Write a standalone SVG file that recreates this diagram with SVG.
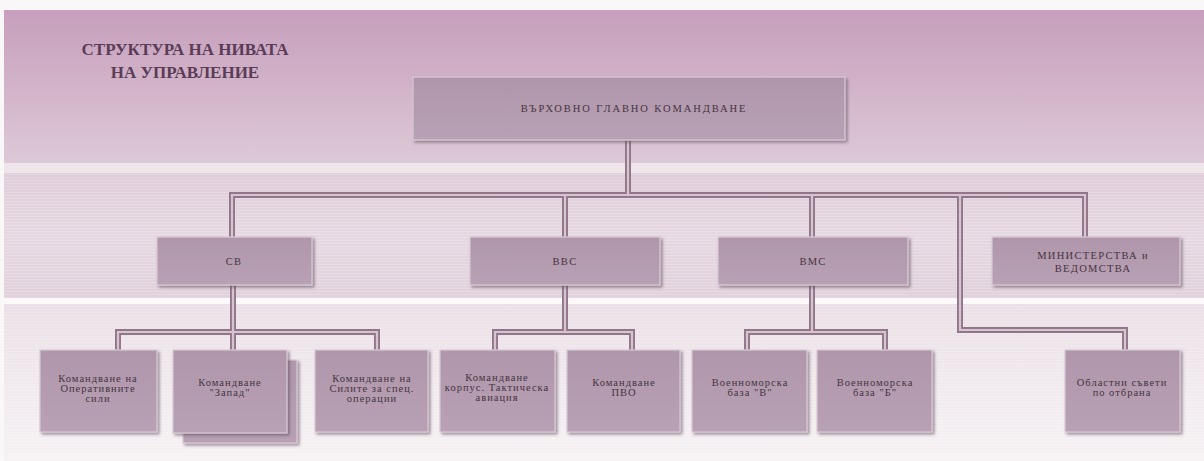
<svg xmlns="http://www.w3.org/2000/svg" width="1204" height="461" viewBox="0 0 1204 461">
<defs>
<linearGradient id="gTop" x1="0" y1="0" x2="0" y2="1">
<stop offset="0" stop-color="#c69fbc"/>
<stop offset="0.55" stop-color="#d3b5ca"/>
<stop offset="1" stop-color="#ddc9d7"/>
</linearGradient>
<linearGradient id="gMid" x1="0" y1="0" x2="0" y2="1">
<stop offset="0" stop-color="#dfcdd9"/>
<stop offset="0.5" stop-color="#e6d8e2"/>
<stop offset="1" stop-color="#e1d1dc"/>
</linearGradient>
<linearGradient id="gBot" x1="0" y1="0" x2="0" y2="1">
<stop offset="0" stop-color="#ebe0e7"/>
<stop offset="1" stop-color="#f6f2f4"/>
</linearGradient>
<linearGradient id="gNode" x1="0" y1="0" x2="0" y2="1">
<stop offset="0" stop-color="#af96aa"/>
<stop offset="1" stop-color="#b9a1b5"/>
</linearGradient>
<pattern id="stripes" width="4" height="3" patternUnits="userSpaceOnUse">
<rect width="4" height="1" fill="#ffffff" fill-opacity="0.18"/>
</pattern>
<filter id="sh" x="-10%" y="-10%" width="125%" height="130%">
<feDropShadow dx="2" dy="2" stdDeviation="1.6" flood-color="#5a4256" flood-opacity="0.55"/>
</filter>
</defs>
<style>
.node{fill:url(#gNode);stroke:#d9cad5;stroke-width:1.2;filter:url(#sh)}
.t{font-family:"Liberation Serif","DejaVu Serif",serif;fill:#45343f;text-anchor:middle}
.t1{font-size:10.5px;letter-spacing:1.9px}
.t2{font-size:10.5px;letter-spacing:1.3px}
.t3{font-size:10.5px;letter-spacing:1px}
.title{font-family:"Liberation Serif","DejaVu Serif",serif;font-weight:bold;font-size:17px;fill:#5a3c56;text-anchor:middle}
.cOut{fill:none;stroke:#917689;stroke-width:6;stroke-linejoin:miter;stroke-linecap:square}
.cIn{fill:none;stroke:#d6c5d0;stroke-width:2.2;stroke-linejoin:miter;stroke-linecap:square}
</style>
<rect width="1204" height="461" fill="#faf7f9"/>
<g id="background">
<rect x="4" y="10" width="1200" height="153" fill="url(#gTop)"/>
<rect x="4" y="163" width="1200" height="10" fill="#efe6ec"/>
<rect x="4" y="173" width="1200" height="125" fill="url(#gMid)"/>
<rect x="4" y="173" width="1200" height="125" fill="url(#stripes)"/>
<rect x="4" y="298" width="1200" height="6" fill="#fbf9fa"/>
<rect x="4" y="304" width="1200" height="157" fill="url(#gBot)"/>
<rect x="4" y="304" width="1200" height="157" fill="url(#stripes)"/>
</g>
<g id="title">
<text class="title" x="185" y="55">СТРУКТУРА НА НИВАТА</text>
<text class="title" x="185" y="78">НА УПРАВЛЕНИЕ</text>
</g>
<g id="connectors">
<g class="cOut">
<path d="M628 140V195"/>
<path d="M232 237V195H1085V237"/>
<path d="M565 195V237"/>
<path d="M812 195V237"/>
<path d="M960 195V330H1125V350"/>
<path d="M233 285V350"/>
<path d="M118 350V332H377V350"/>
<path d="M565 285V332"/>
<path d="M495 350V332H632V350"/>
<path d="M812 285V332"/>
<path d="M747 350V332H885V350"/>
</g>
<g class="cIn">
<path d="M628 140V195"/>
<path d="M232 237V195H1085V237"/>
<path d="M565 195V237"/>
<path d="M812 195V237"/>
<path d="M960 195V330H1125V350"/>
<path d="M233 285V350"/>
<path d="M118 350V332H377V350"/>
<path d="M565 285V332"/>
<path d="M495 350V332H632V350"/>
<path d="M812 285V332"/>
<path d="M747 350V332H885V350"/>
</g>
</g>
<g id="n-top">
<rect class="node" x="413" y="77" width="432" height="63"/>
<text class="t t1" x="634" y="112">ВЪРХОВНО ГЛАВНО КОМАНДВАНЕ</text>
</g>
<g id="n-sv">
<rect class="node" x="157" y="237" width="155" height="48"/>
<text class="t t2" x="234" y="265">СВ</text>
</g>
<g id="n-vvs">
<rect class="node" x="470" y="237" width="190" height="48"/>
<text class="t t2" x="565" y="265">ВВС</text>
</g>
<g id="n-vms">
<rect class="node" x="718" y="237" width="190" height="48"/>
<text class="t t2" x="813" y="265">ВМС</text>
</g>
<g id="n-min">
<rect class="node" x="992" y="237" width="188" height="48"/>
<text class="t t2" x="1093" y="259">МИНИСТЕРСТВА и</text>
<text class="t t2" x="1093" y="272">ВЕДОМСТВА</text>
</g>
<g id="n-ops">
<rect class="node" x="40" y="350" width="117" height="82"/>
<text class="t t3" x="98" y="382">Командване на</text>
<text class="t t3" x="98" y="392">Оперативните</text>
<text class="t t3" x="98" y="402">сили</text>
</g>
<g id="n-zapad">
<rect class="node" x="183" y="360" width="114" height="83"/>
<rect class="node" x="173" y="350" width="114" height="83"/>
<text class="t t3" x="230" y="386">Командване</text>
<text class="t t3" x="230" y="396">"Запад"</text>
</g>
<g id="n-sso">
<rect class="node" x="315" y="350" width="113" height="82"/>
<text class="t t3" x="372" y="382">Командване на</text>
<text class="t t3" x="372" y="392">Силите за спец.</text>
<text class="t t3" x="372" y="402">операции</text>
</g>
<g id="n-korpus">
<rect class="node" x="440" y="350" width="115" height="82"/>
<text class="t t3" x="497" y="381">Командване</text>
<text class="t t3" x="497" y="391">корпус. Тактическа</text>
<text class="t t3" x="497" y="401">авиация</text>
</g>
<g id="n-pvo">
<rect class="node" x="567" y="350" width="113" height="82"/>
<text class="t t3" x="624" y="386">Командване</text>
<text class="t t3" x="624" y="396">ПВО</text>
</g>
<g id="n-vmb-v">
<rect class="node" x="692" y="350" width="115" height="82"/>
<text class="t t3" x="750" y="386">Военноморска</text>
<text class="t t3" x="750" y="396">база "В"</text>
</g>
<g id="n-vmb-b">
<rect class="node" x="817" y="350" width="115" height="82"/>
<text class="t t3" x="875" y="386">Военноморска</text>
<text class="t t3" x="875" y="396">база "Б"</text>
</g>
<g id="n-oblastni">
<rect class="node" x="1065" y="350" width="115" height="82"/>
<text class="t t3" x="1122" y="386">Областни съвети</text>
<text class="t t3" x="1122" y="396">по отбрана</text>
</g>
</svg>
